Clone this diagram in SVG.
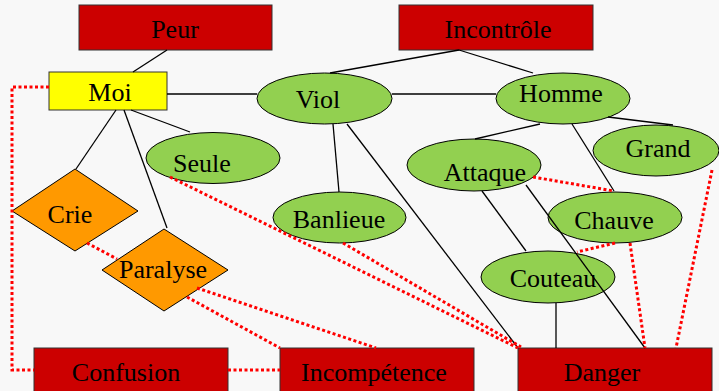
<svg xmlns="http://www.w3.org/2000/svg" width="719" height="391" viewBox="0 0 719 391">
<style>
.box{fill:#cc0000;stroke:#333;stroke-width:1}
.moi{fill:#ffff00;stroke:#333;stroke-width:1}
.ell{fill:#92d050;stroke:#000;stroke-width:1}
.dia{fill:#ff9900;stroke:#000;stroke-width:1}
text{font-family:"Liberation Serif","Times New Roman",serif;font-size:26px;fill:#000;text-anchor:middle}
.ln{stroke:#000;stroke-width:1.3;fill:none}
.dt{stroke:#ff0000;stroke-width:3;stroke-dasharray:3 2.5;fill:none}
</style>
<rect width="719" height="391" fill="#f8f8f8"/>
<g id="peur"><rect class="box" x="79" y="5" width="193" height="45"/><text x="175" y="38">Peur</text></g>
<g id="incontrole"><rect class="box" x="399" y="5" width="194" height="45"/><text x="498" y="38">Incontrôle</text></g>
<g id="moi"><rect class="moi" x="49" y="72" width="118" height="38"/><text x="110" y="101">Moi</text></g>
<g id="viol"><ellipse class="ell" cx="324.5" cy="98.5" rx="67.5" ry="25.5"/><text x="318" y="108">Viol</text></g>
<g id="homme"><ellipse class="ell" cx="563" cy="98.5" rx="67" ry="25.5"/><text x="561" y="102">Homme</text></g>
<g id="seule"><ellipse class="ell" cx="213" cy="158" rx="67" ry="25.5"/><text x="202" y="172">Seule</text></g>
<g id="attaque"><ellipse class="ell" cx="474" cy="165" rx="67" ry="26"/><text x="485" y="181">Attaque</text></g>
<g id="grand"><ellipse class="ell" cx="656" cy="150.5" rx="63" ry="25.5"/><text x="658" y="157">Grand</text></g>
<g id="banlieue"><ellipse class="ell" cx="339.5" cy="217.5" rx="66.5" ry="25.5"/><text x="339" y="228">Banlieue</text></g>
<g id="chauve"><ellipse class="ell" cx="615" cy="217.5" rx="67" ry="25.5"/><text x="614" y="229">Chauve</text></g>
<g id="couteau"><ellipse class="ell" cx="548" cy="277" rx="67" ry="26"/><text x="553" y="287">Couteau</text></g>
<g id="crie"><polygon class="dia" points="12,211 75,169 138,211 75,251"/><text x="70" y="223">Crie</text></g>
<g id="paralyse"><polygon class="dia" points="102,270 164,229 228,270 164,311"/><text x="163" y="278">Paralyse</text></g>
<g id="confusion"><rect class="box" x="34" y="348" width="194" height="45"/><text x="126" y="381">Confusion</text></g>
<g id="incompetence"><rect class="box" x="280" y="348" width="194" height="45"/><text x="374" y="381">Incompétence</text></g>
<g id="danger"><rect class="box" x="518" y="348" width="194" height="45"/><text x="602" y="381">Danger</text></g>
<g id="connectors">
<line class="ln" x1="167" y1="50" x2="133" y2="72"/>
<line class="ln" x1="459" y1="50" x2="330" y2="73"/>
<line class="ln" x1="459" y1="50" x2="533" y2="73"/>
<line class="ln" x1="167" y1="94" x2="257" y2="94"/>
<line class="ln" x1="392" y1="94" x2="496" y2="94"/>
<line class="ln" x1="131" y1="110" x2="190" y2="132"/>
<line class="ln" x1="116" y1="110" x2="76" y2="169"/>
<line class="ln" x1="124" y1="110" x2="167" y2="228"/>
<line class="ln" x1="333" y1="124" x2="339" y2="192"/>
<line class="ln" x1="347" y1="124" x2="518" y2="348"/>
<line class="ln" x1="540" y1="124" x2="475" y2="139"/>
<line class="ln" x1="608" y1="117" x2="673" y2="125"/>
<line class="ln" x1="572" y1="124" x2="614" y2="191"/>
<line class="ln" x1="482" y1="191" x2="526" y2="251"/>
<line class="ln" x1="526" y1="185" x2="645" y2="348"/>
<line class="ln" x1="556" y1="303" x2="556" y2="348"/>
<polyline class="dt" points="49,87 12,87 12,370 34,370"/>
<line class="dt" x1="228" y1="370" x2="280" y2="370"/>
<line class="dt" x1="87" y1="243" x2="117" y2="259"/>
<line class="dt" x1="187" y1="297" x2="280" y2="348"/>
<line class="dt" x1="197" y1="288" x2="376" y2="348"/>
<line class="dt" x1="170" y1="177" x2="518" y2="348"/>
<line class="dt" x1="343" y1="243" x2="521" y2="347"/>
<line class="dt" x1="533" y1="177" x2="614" y2="191"/>
<line class="dt" x1="615" y1="243" x2="577" y2="252"/>
<line class="dt" x1="630" y1="243" x2="645" y2="348"/>
<line class="dt" x1="712" y1="170" x2="676" y2="348"/>
</g>
</svg>
